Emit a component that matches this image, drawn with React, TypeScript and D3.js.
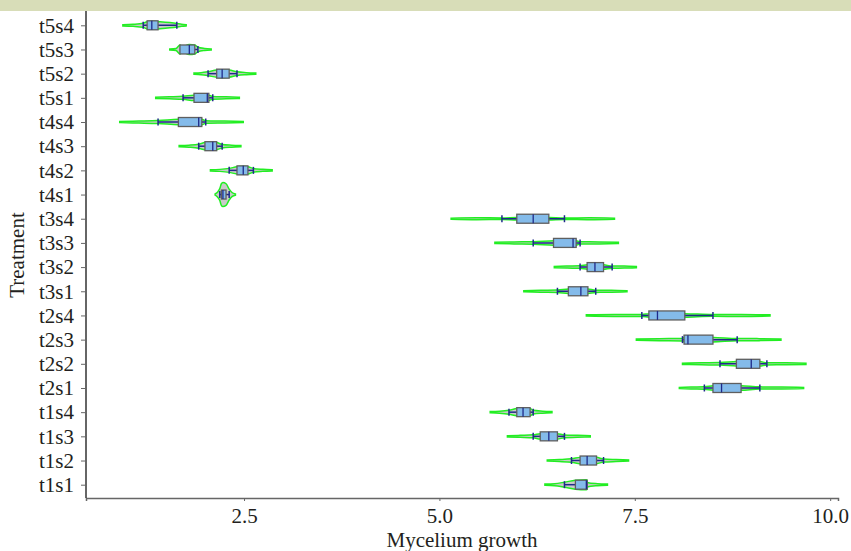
import React, { useEffect, useRef } from "react";
import * as d3 from "d3";

const treatments = [
  "t1s1", "t1s2", "t1s3", "t1s4",
  "t2s1", "t2s2", "t2s3", "t2s4",
  "t3s1", "t3s2", "t3s3", "t3s4",
  "t4s1", "t4s2", "t4s3", "t4s4",
  "t5s1", "t5s2", "t5s3", "t5s4",
];
// violin extent
const violinMin = [6.35, 6.38, 5.87, 5.65, 8.07, 8.11, 7.52, 6.88, 6.08, 6.47, 5.71, 5.15, 2.13, 2.07, 1.67, 0.91, 1.37, 1.86, 1.55, 0.95];
const violinMax = [7.15, 7.42, 6.93, 6.44, 9.66, 9.69, 9.37, 9.23, 7.40, 7.52, 7.29, 7.24, 2.39, 2.86, 2.46, 2.49, 2.44, 2.65, 2.08, 1.76];
// box plot stats
const whiskerLow = [6.60, 6.69, 6.20, 5.89, 8.39, 8.59, 8.11, 7.59, 6.51, 6.80, 6.20, 5.80, 2.19, 2.31, 1.92, 1.40, 1.72, 2.04, 1.71, 1.21];
const q1 = [6.74, 6.80, 6.29, 5.99, 8.50, 8.80, 8.13, 7.68, 6.65, 6.89, 6.46, 5.99, 2.21, 2.41, 2.00, 1.66, 1.86, 2.15, 1.68, 1.26];
const median = [6.88, 6.89, 6.40, 6.07, 8.61, 8.99, 8.18, 7.79, 6.81, 6.99, 6.71, 6.20, 2.23, 2.49, 2.10, 1.92, 2.03, 2.22, 1.80, 1.32];
const q3 = [6.89, 7.01, 6.51, 6.16, 8.86, 9.10, 8.50, 8.14, 6.90, 7.10, 6.75, 6.40, 2.27, 2.55, 2.15, 1.96, 2.05, 2.31, 1.87, 1.40];
const whiskerHigh = [6.89, 7.10, 6.60, 6.20, 9.10, 9.19, 8.81, 8.50, 7.00, 7.21, 6.80, 6.60, 2.31, 2.62, 2.22, 2.01, 2.10, 2.41, 1.91, 1.64];
const violinWidth = [5, 3.5, 3, 4, 2.5, 2.5, 2.5, 2, 2.5, 2.5, 2.5, 1.5, 12, 4, 4, 3, 3, 4, 5, 4];
const xTicks = [2.5, 5.0, 7.5, 10.0];

const App = () => {
  const ref = useRef<SVGSVGElement>(null);

  useEffect(() => {
    const svg = d3.select(ref.current);
    svg.selectAll("*").remove();
    const width = 851;
    const left = 86;
    const right = 838;
    const bottom = 498;
    const top = 12;
    const font = "Liberation Serif";
    const textColor = "#231f20";

    svg.append("rect")
      .attr("x", 0).attr("y", 0)
      .attr("width", width).attr("height", 11)
      .attr("fill", "#d8ddb8");

    const xScale = d3.scaleLinear()
      .domain([0.478, 10.1])
      .range([left, right]);
    const yScale = d3.scalePoint<string>()
      .domain(treatments)
      .range([bottom, top])
      .padding(0.55);

    // violins
    const area = d3.area<[number, number]>()
      .x((d) => xScale(d[0]))
      .y0((d) => -d[1])
      .y1((d) => d[1])
      .curve(d3.curveMonotoneX);

    treatments.forEach((t, i) => {
      const cy = yScale(t) as number;
      const w = violinWidth[i];
      const pts: [number, number][] = [
        [violinMin[i], 0.6],
        [(violinMin[i] + whiskerLow[i]) / 2, Math.max(1, 0.2 * w)],
        [whiskerLow[i], 0.5 * w],
        [q1[i], 0.9 * w],
        [median[i], w],
        [q3[i], 0.9 * w],
        [whiskerHigh[i], 0.45 * w],
        [(whiskerHigh[i] + violinMax[i]) / 2, Math.max(1, 0.15 * w)],
        [violinMax[i], 0.6],
      ];
      pts.sort((a, b) => a[0] - b[0]);
      const g = svg.append("g").attr("transform", "translate(0," + cy + ")");
      g.append("path")
        .attr("d", area(pts))
        .attr("fill", "rgba(150,150,150,0.5)")
        .attr("stroke", "#22ee22")
        .attr("stroke-width", 1.5);

      // whisker
      g.append("line")
        .attr("x1", xScale(whiskerLow[i])).attr("x2", xScale(whiskerHigh[i]))
        .attr("y1", 0).attr("y2", 0)
        .attr("stroke", "#1f2a8a").attr("stroke-width", 1.5);
      [whiskerLow[i], whiskerHigh[i]].forEach((v) => {
        g.append("line")
          .attr("x1", xScale(v)).attr("x2", xScale(v))
          .attr("y1", -3.5).attr("y2", 3.5)
          .attr("stroke", "#1f2a8a").attr("stroke-width", 1.5);
      });
      // box
      g.append("rect")
        .attr("x", xScale(q1[i]))
        .attr("y", -4.5)
        .attr("width", Math.max(1, xScale(q3[i]) - xScale(q1[i])))
        .attr("height", 9)
        .attr("fill", "#84bbea")
        .attr("stroke", "#5f5f5f")
        .attr("stroke-width", 1.3);
      g.append("line")
        .attr("x1", xScale(median[i])).attr("x2", xScale(median[i]))
        .attr("y1", -4.5).attr("y2", 4.5)
        .attr("stroke", "#1f2a8a").attr("stroke-width", 1.3);
    });

    // axes
    const xAxis = d3.axisBottom(xScale)
      .tickValues(xTicks)
      .tickFormat(d3.format(".1f"))
      .tickSizeOuter(0)
      .tickSize(3)
      .tickPadding(7);
    const gx = svg.append("g")
      .attr("transform", "translate(0," + bottom + ")")
      .call(xAxis)
      .attr("font-family", font)
      .attr("font-size", 21);
    gx.select(".domain").attr("stroke", "#666").attr("stroke-width", 1.5);
    gx.selectAll(".tick line").attr("stroke", "#666");
    gx.selectAll("text")
      .attr("fill", textColor);

    const yAxis = d3.axisLeft(yScale)
      .tickSizeOuter(0)
      .tickSize(5)
      .tickPadding(7);
    const gy = svg.append("g")
      .attr("transform", "translate(" + left + ",0)")
      .call(yAxis)
      .attr("font-family", font)
      .attr("font-size", 21);
    gy.select(".domain").attr("stroke", "#333").attr("stroke-width", 1.5)
      .attr("d", "M0," + 11 + "V" + bottom);
    gy.selectAll(".tick line").attr("stroke", "#666");
    gy.selectAll("text")
      .attr("fill", textColor);

    svg.append("text")
      .text("Mycelium growth")
      .attr("x", (left + right) / 2)
      .attr("y", 547)
      .attr("text-anchor", "middle")
      .attr("font-family", font)
      .attr("font-size", 21)
      .attr("fill", textColor);

    svg.append("text")
      .text("Treatment")
      .attr("transform", "rotate(-90)")
      .attr("x", -(bottom + top) / 2)
      .attr("y", 24)
      .attr("text-anchor", "middle")
      .attr("font-family", font)
      .attr("font-size", 21)
      .attr("fill", textColor);
  }, []);

  return (
    <svg
      ref={ref}
      width={851}
      height={551}
      style={{ position: "fixed", left: 0, top: 0, background: "white" }}
    />
  );
};

export default App;
